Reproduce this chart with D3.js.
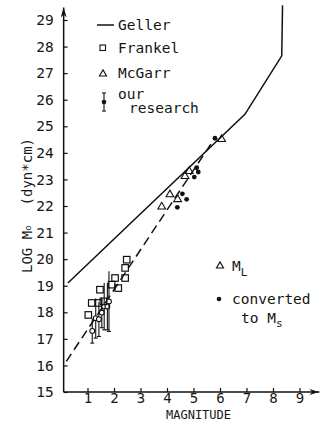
<!DOCTYPE html>
<html>
<head>
<meta charset="utf-8">
<script src="https://cdn.jsdelivr.net/npm/d3@7"></script>
<style>
  body { margin: 0; background: #fff; }
  svg text { font-family: "DejaVu Sans Mono", "Liberation Mono", monospace; fill: #161616; }
</style>
</head>
<body>
<svg id="chart"></svg>
<script>
// magnitude vs. log seismic moment
const xTickLabels = [1, 2, 3, 4, 5, 6, 7, 8, 9];
const yTickLabels = [15, 16, 17, 18, 19, 20, 21, 22, 23, 24, 25, 26, 27, 28, 29];

// Geller relation (solid), broken line with saturation at the top
const gellerLine = [[0.26, 19.1], [6.94, 25.45], [8.33, 27.65], [8.36, 29.55]];
// fitted line (dashed)
const fitLine = [[0.2, 16.15], [5.8, 24.55]];

// Frankel: open squares [magnitude, log M0]
const frankel = [
    [1.03, 17.9], [1.16, 18.35], [1.41, 18.35], [1.6, 18.41], [1.47, 18.85],
    [1.91, 19.04], [2.04, 19.29], [2.16, 18.91], [2.42, 19.29], [2.42, 19.67], [2.48, 19.98]
];
// McGarr: open triangles (M_L)
const mcgarr = [[3.8, 21.97], [4.11, 22.43], [4.4, 22.25], [4.68, 23.12], [4.84, 23.31], [6.06, 24.51]];
// converted to M_s: filled dots
const converted = [[4.39, 21.95], [4.58, 22.46], [4.74, 22.25], [5.03, 23.09], [5.12, 23.44], [5.18, 23.28], [5.81, 24.55]];
// our research: [magnitude, log M0, half error bar]
const ourResearch = [
    [1.18, 17.3, 0.46], [1.31, 17.78, 0.75], [1.43, 17.74, 0.65], [1.54, 17.99, 0.57],
    [1.63, 18.22, 0.88], [1.75, 18.22, 0.88], [1.81, 18.41, 1.13]
];

class MomentMagnitudePlot {
    constructor(_config) {
        this.config = {
            parentElement: _config.parentElement,
            containerWidth: _config.containerWidth || 323,
            containerHeight: _config.containerHeight || 424,
            fontSize: _config.fontSize || 14.5
        }
        this.initVis();
    }

    initVis() {
        let vis = this;

        vis.svg = d3.select(vis.config.parentElement)
            .attr('width', vis.config.containerWidth)
            .attr('height', vis.config.containerHeight);

        // both axes use ~26.5px per unit
        vis.x = d3.scaleLinear().domain([0, 9]).range([61, 299.5]);
        vis.y = d3.scaleLinear().domain([15, 29]).range([392, 20]);

        let defs = vis.svg.append('defs');
        defs.append('marker')
            .attr('id', 'arrow')
            .attr('viewBox', '0 0 10 6')
            .attr('refX', 10).attr('refY', 3)
            .attr('markerWidth', 10).attr('markerHeight', 6)
            .attr('markerUnits', 'userSpaceOnUse')
            .attr('orient', 'auto')
            .append('path')
                .attr('d', 'M0,0 L10,3 L0,6 L3,3 Z')
                .attr('fill', '#111');

        vis.chart = vis.svg.append('g');
        vis.renderVis();
    }

    renderVis() {
        let vis = this;
        const fs = vis.config.fontSize;
        const axisX = vis.x(0.1);

        // y axis
        const yAxis = d3.axisLeft(vis.y)
            .tickValues(yTickLabels)
            .tickSizeInner(-4)
            .tickSizeOuter(0)
            .tickPadding(10);
        const yg = vis.chart.append('g')
            .attr('transform', `translate(${axisX},0)`)
            .call(yAxis);
        yg.select('.domain').remove();
        yg.selectAll('.tick line').attr('stroke', '#111').attr('stroke-width', 1.2);
        yg.selectAll('.tick text').attr('font-size', fs).attr('font-family', null);

        vis.chart.append('line')
            .attr('x1', axisX).attr('x2', axisX)
            .attr('y1', vis.y(15)).attr('y2', vis.y(29.47))
            .attr('stroke', '#111').attr('stroke-width', 1.5)
            .attr('marker-end', 'url(#arrow)');

        // x axis
        const xAxis = d3.axisBottom(vis.x)
            .tickValues(xTickLabels)
            .tickSizeInner(-4)
            .tickSizeOuter(0)
            .tickPadding(1);
        const xg = vis.chart.append('g')
            .attr('transform', `translate(0,${vis.y(15)})`)
            .call(xAxis);
        xg.select('.domain').remove();
        xg.selectAll('.tick line').attr('stroke', '#111').attr('stroke-width', 1.2);
        xg.selectAll('.tick text').attr('font-size', 14).attr('font-family', null);

        vis.chart.append('line')
            .attr('x1', axisX).attr('x2', vis.x(9.75))
            .attr('y1', vis.y(15)).attr('y2', vis.y(15))
            .attr('stroke', '#111').attr('stroke-width', 1.5)
            .attr('marker-end', 'url(#arrow)');

        // axis titles
        vis.chart.append('text')
            .attr('x', 198.5).attr('y', 419)
            .attr('text-anchor', 'middle')
            .attr('font-size', 12)
            .text('MAGNITUDE');

        const yTitle = vis.chart.append('text')
            .attr('transform', 'translate(32,273) rotate(-90)')
            .attr('font-size', 14);
        yTitle.append('tspan').text('LOG M');
        yTitle.append('tspan').attr('font-size', 9).attr('dy', -1).text('o');
        yTitle.append('tspan').attr('dy', 1).attr('dx', 20).text('(dyn*cm)');

        // lines
        const line = d3.line().x(d => vis.x(d[0])).y(d => vis.y(d[1]));
        vis.chart.append('path')
            .datum(gellerLine)
            .attr('d', line)
            .attr('fill', 'none').attr('stroke', '#111').attr('stroke-width', 1.5);
        vis.chart.append('path')
            .datum(fitLine)
            .attr('d', line)
            .attr('fill', 'none').attr('stroke', '#111').attr('stroke-width', 1.5)
            .attr('stroke-dasharray', '9,5');

        // our research error bars
        const eb = vis.chart.selectAll('.errbar')
            .data(ourResearch)
            .join('g').attr('class', 'errbar');
        eb.append('line')
            .attr('x1', d => vis.x(d[0])).attr('x2', d => vis.x(d[0]))
            .attr('y1', d => vis.y(d[1] - d[2])).attr('y2', d => vis.y(d[1] + d[2]))
            .attr('stroke', '#111').attr('stroke-width', 1.1);
        eb.append('line')
            .attr('x1', d => vis.x(d[0]) - 2).attr('x2', d => vis.x(d[0]) + 2)
            .attr('y1', d => vis.y(d[1] - d[2])).attr('y2', d => vis.y(d[1] - d[2]))
            .attr('stroke', '#111').attr('stroke-width', 1.1);
        eb.append('circle')
            .attr('cx', d => vis.x(d[0])).attr('cy', d => vis.y(d[1]))
            .attr('r', 2.4)
            .attr('fill', '#fff').attr('stroke', '#111').attr('stroke-width', 1.1);

        // Frankel squares
        const sq = 6.5;
        vis.chart.selectAll('.frankel')
            .data(frankel)
            .join('rect').attr('class', 'frankel')
            .attr('x', d => vis.x(d[0]) - sq / 2).attr('y', d => vis.y(d[1]) - sq / 2)
            .attr('width', sq).attr('height', sq)
            .attr('fill', 'none').attr('stroke', '#111').attr('stroke-width', 1.2);

        // McGarr triangles
        const tri = d3.symbol().type(d3.symbolTriangle).size(26);
        vis.chart.selectAll('.mcgarr')
            .data(mcgarr)
            .join('path').attr('class', 'mcgarr')
            .attr('d', tri)
            .attr('transform', d => `translate(${vis.x(d[0])},${vis.y(d[1])})`)
            .attr('fill', 'none').attr('stroke', '#111').attr('stroke-width', 1.1);

        // converted dots
        vis.chart.selectAll('.conv')
            .data(converted)
            .join('circle').attr('class', 'conv')
            .attr('cx', d => vis.x(d[0])).attr('cy', d => vis.y(d[1]))
            .attr('r', 2.4)
            .attr('fill', '#111');

        vis.renderLegend();
    }

    renderLegend() {
        let vis = this;
        const fs = vis.config.fontSize;
        const lg = vis.chart.append('g');
        const tx = 118;

        lg.append('line')
            .attr('x1', 97).attr('x2', 114).attr('y1', 25).attr('y2', 25)
            .attr('stroke', '#111').attr('stroke-width', 1.5);
        lg.append('text').attr('x', tx).attr('y', 30).attr('font-size', fs).text('Geller');

        lg.append('rect')
            .attr('x', 100).attr('y', 45).attr('width', 5.5).attr('height', 5.5)
            .attr('fill', 'none').attr('stroke', '#111').attr('stroke-width', 1.1);
        lg.append('text').attr('x', tx).attr('y', 53).attr('font-size', fs).text('Frankel');

        lg.append('path')
            .attr('d', d3.symbol().type(d3.symbolTriangle).size(22))
            .attr('transform', 'translate(103,74)')
            .attr('fill', 'none').attr('stroke', '#111').attr('stroke-width', 1.1);
        lg.append('text').attr('x', tx).attr('y', 78).attr('font-size', fs).text('McGarr');

        lg.append('line')
            .attr('x1', 104).attr('x2', 104).attr('y1', 93).attr('y2', 111)
            .attr('stroke', '#111').attr('stroke-width', 1.1);
        lg.append('line')
            .attr('x1', 102).attr('x2', 106).attr('y1', 93).attr('y2', 93)
            .attr('stroke', '#111').attr('stroke-width', 1.1);
        lg.append('line')
            .attr('x1', 102).attr('x2', 106).attr('y1', 111).attr('y2', 111)
            .attr('stroke', '#111').attr('stroke-width', 1.1);
        lg.append('circle')
            .attr('cx', 104).attr('cy', 102).attr('r', 2.3).attr('fill', '#111');
        lg.append('text').attr('x', tx).attr('y', 99).attr('font-size', fs).text('our');
        lg.append('text').attr('x', 129).attr('y', 113).attr('font-size', fs).text('research');

        // lower legend
        lg.append('path')
            .attr('d', d3.symbol().type(d3.symbolTriangle).size(22))
            .attr('transform', 'translate(220,266)')
            .attr('fill', 'none').attr('stroke', '#111').attr('stroke-width', 1.1);
        const ml = lg.append('text').attr('x', 232).attr('y', 271).attr('font-size', fs);
        ml.append('tspan').text('M');
        ml.append('tspan').attr('font-size', 11).attr('dy', 5).text('L');

        lg.append('circle')
            .attr('cx', 219).attr('cy', 299).attr('r', 2.3).attr('fill', '#111');
        lg.append('text').attr('x', 232).attr('y', 304).attr('font-size', fs).text('converted');
        const ms = lg.append('text').attr('x', 241).attr('y', 323).attr('font-size', fs);
        ms.append('tspan').text('to M');
        ms.append('tspan').attr('font-size', 11).attr('dy', 4).text('s');
    }
}

new MomentMagnitudePlot({ parentElement: '#chart' });
</script>
</body>
</html>
